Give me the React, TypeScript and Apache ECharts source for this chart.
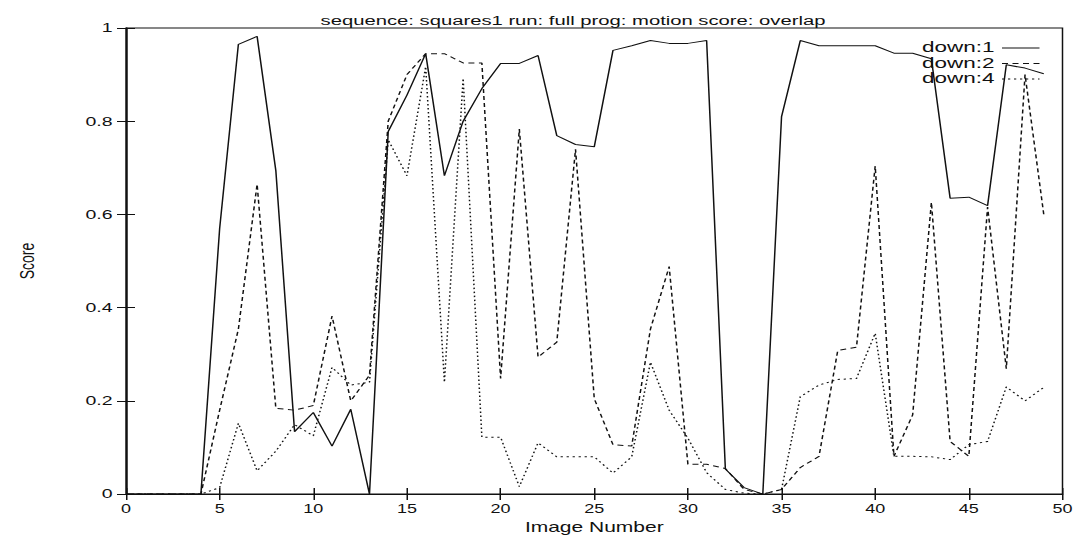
import React, { useEffect, useRef } from "react";
import * as echarts from "echarts";

const imageNumbers = Array.from({ length: 50 }, (_, i) => i);
const down1 = [0, 0, 0, 0, 0, 0.57, 0.965, 0.982, 0.694, 0.134, 0.175, 0.103, 0.182, 0, 0.778, 0.856, 0.945, 0.683, 0.8, 0.87, 0.924, 0.924, 0.941, 0.769, 0.75, 0.745, 0.952, 0.962, 0.973, 0.967, 0.967, 0.973, 0.054, 0.014, 0, 0.81, 0.973, 0.962, 0.962, 0.962, 0.962, 0.946, 0.946, 0.934, 0.635, 0.637, 0.619, 0.921, 0.914, 0.902];
const down2 = [0, 0, 0, 0, 0, 0.18, 0.354, 0.665, 0.184, 0.18, 0.19, 0.382, 0.2, 0.255, 0.8, 0.9, 0.945, 0.945, 0.925, 0.925, 0.248, 0.783, 0.294, 0.326, 0.74, 0.205, 0.106, 0.103, 0.354, 0.488, 0.064, 0.064, 0.055, 0.01, 0, 0.01, 0.057, 0.081, 0.308, 0.315, 0.704, 0.081, 0.17, 0.626, 0.113, 0.081, 0.616, 0.269, 0.9, 0.6];
const down4 = [0, 0, 0, 0, 0, 0.014, 0.152, 0.05, 0.092, 0.149, 0.125, 0.272, 0.234, 0.24, 0.76, 0.683, 0.917, 0.24, 0.892, 0.122, 0.122, 0.016, 0.11, 0.08, 0.08, 0.08, 0.045, 0.08, 0.283, 0.18, 0.12, 0.046, 0.01, 0.002, 0, 0.01, 0.209, 0.234, 0.246, 0.248, 0.345, 0.081, 0.081, 0.08, 0.074, 0.106, 0.113, 0.23, 0.2, 0.229];
const seriesNames = ["down:1", "down:2", "down:4"];
const titleText = "sequence: squares1 run: full prog: motion score: overlap";
const xAxisTitle = "Image Number";
const yAxisTitle = "Score";

// The reference image is stretched horizontally; reproduce by rendering narrower and scaling.
const STRETCH = 1.5;
const W = 1078 / STRETCH;
const H = 539;
const FONT = "'Liberation Sans', Arial, sans-serif";
const INK = "#111";

export default function App() {
  const ref = useRef<HTMLDivElement>(null);
  useEffect(() => {
    if (!ref.current) return;
    const chart = echarts.init(ref.current, null, { renderer: "svg" });
    const mk = (arr: number[]) => imageNumbers.map((x, i) => [x, arr[i]]);
    const lineTypes: any[] = ["solid", [4, 3], [1.5, 2.5]];
    const datasets = [down1, down2, down4];
    const legendTextRight = 663;
    const legendLineX1 = 668;
    const legendLineX2 = 693;
    const legendRowsY = [47, 62.5, 78];
    const legendGraphics: any[] = [];
    seriesNames.forEach((name, k) => {
      legendGraphics.push({
        type: "text",
        x: legendTextRight,
        y: legendRowsY[k],
        z: 100,
        style: {
          text: name,
          fill: INK,
          font: `15px ${FONT}`,
          align: "right",
          verticalAlign: "middle",
        },
      });
      legendGraphics.push({
        type: "line",
        z: 100,
        shape: { x1: legendLineX1, y1: legendRowsY[k] + 1, x2: legendLineX2, y2: legendRowsY[k] + 1 },
        style: { stroke: INK, lineWidth: 1, lineDash: k === 0 ? null : lineTypes[k] },
      });
    });
    chart.setOption({
      animation: false,
      backgroundColor: "#fff",
      title: {
        text: titleText,
        left: 377,
        top: 8,
        textAlign: "center",
        textStyle: { fontFamily: FONT, fontSize: 13.5, fontWeight: "normal", color: INK },
      },
      graphic: legendGraphics,
      grid: { left: 84, right: W - 708, top: 28, bottom: 41, show: true, borderColor: INK, borderWidth: 1 },
      xAxis: [
        {
          type: "value",
          min: 0,
          max: 50,
          interval: 5,
          name: xAxisTitle,
          nameLocation: "middle",
          nameGap: 23,
          nameTextStyle: { fontFamily: FONT, fontSize: 14, color: INK },
          axisLine: { show: true, lineStyle: { color: INK } },
          axisTick: { show: true, inside: true, length: 6, lineStyle: { color: INK } },
          axisLabel: { fontFamily: FONT, fontSize: 12, color: INK, margin: 9 },
          splitLine: { show: false },
        },
        {
          type: "value",
          position: "top",
          min: 0,
          max: 50,
          interval: 5,
          axisLine: { show: true, lineStyle: { color: INK } },
          axisTick: { show: true, inside: true, length: 6, lineStyle: { color: INK } },
          axisLabel: { show: false },
          splitLine: { show: false },
        },
      ],
      yAxis: [
        {
          type: "value",
          min: 0,
          max: 1,
          interval: 0.2,
          name: yAxisTitle,
          nameLocation: "middle",
          nameGap: 59,
          nameRotate: 90,
          nameTextStyle: { fontFamily: FONT, fontSize: 14, color: INK },
          axisLine: { show: true, lineStyle: { color: INK } },
          axisTick: { show: true, inside: true, length: 6, lineStyle: { color: INK } },
          axisLabel: {
            fontFamily: FONT,
            fontSize: 13,
            color: INK,
            margin: 9,
            formatter: (v: number) => String(Math.round(v * 10) / 10),
          },
          splitLine: { show: false },
        },
        {
          type: "value",
          position: "right",
          min: 0,
          max: 1,
          interval: 0.2,
          axisLine: { show: true, lineStyle: { color: INK } },
          axisTick: { show: true, inside: true, length: 6, lineStyle: { color: INK } },
          axisLabel: { show: false },
          splitLine: { show: false },
        },
      ],
      series: seriesNames.map((name, k) => ({
        name,
        type: "line",
        xAxisIndex: 0,
        yAxisIndex: 0,
        data: mk(datasets[k]),
        showSymbol: false,
        symbol: "none",
        color: INK,
        lineStyle: { color: INK, width: 1, type: lineTypes[k] },
        itemStyle: { color: INK },
        z: 3 - k,
      })),
    });
    return () => chart.dispose();
  }, []);
  return (
    <div
      ref={ref}
      style={{
        width: W,
        height: H,
        position: "absolute",
        left: 0,
        top: 0,
        background: "#fff",
        transform: `scaleX(${STRETCH})`,
        transformOrigin: "0 0",
      }}
    />
  );
}
